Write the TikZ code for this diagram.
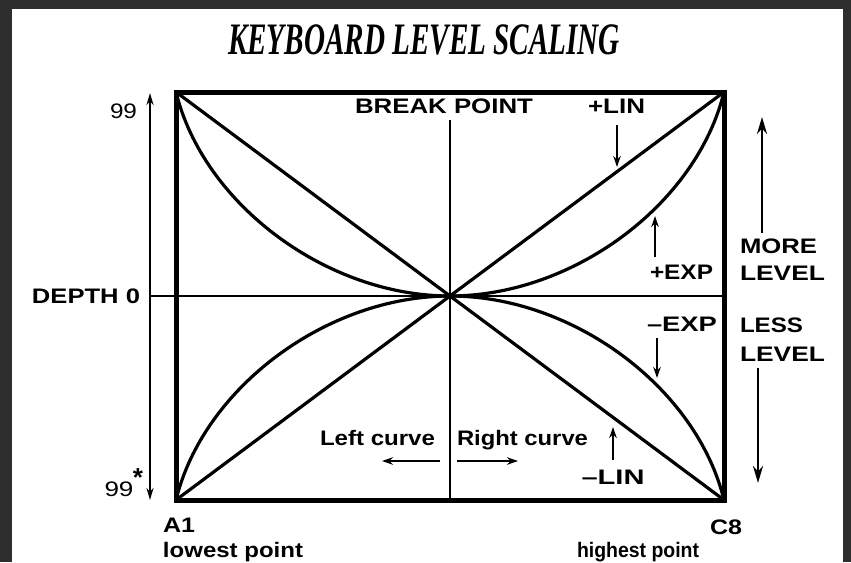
\documentclass[tikz,border=0pt]{standalone}
\usepackage{fontspec}
\usepackage{graphicx}
\setmainfont{Liberation Sans}
\newfontfamily\titlefont{Liberation Serif}
\usetikzlibrary{arrows.meta}
\definecolor{bgdark}{RGB}{46,46,46}
\newcommand\fitw[2]{\resizebox{#1pt}{\height}{#2}}
\begin{document}
\begin{tikzpicture}[x=1pt,y=-1pt,
  lbl/.style={inner sep=0pt, outer sep=0pt, font=\fontsize{21}{21}\selectfont\bfseries},
  num/.style={inner sep=0pt, outer sep=0pt, font=\fontsize{21}{21}\selectfont},
  frame/.style={line width=5pt, line join=miter},
  curve/.style={line width=3.2pt},
  thinline/.style={line width=1.3pt},
  axis/.style={line width=2pt, {Stealth[length=12pt,width=7pt]}-{Stealth[length=12pt,width=7pt]}},
  pointer/.style={line width=1.9pt, -{Stealth[length=11pt,width=7.5pt]}},
  bigarrow/.style={line width=2.6pt, -{Stealth[length=17pt,width=10pt]}}]
\useasboundingbox (0,0) rectangle (851,562);
\fill[bgdark] (0,0) rectangle (851,562);
\fill[white] (12,9) rectangle (843,562);

% title
\node[inner sep=0pt] (title) at (424,40) {\fitw{392}{\titlefont\fontsize{45}{45}\selectfont\bfseries\itshape KEYBOARD LEVEL SCALING}};

% box corners and centre
\coordinate (TL) at (176,92);
\coordinate (TR) at (724,92);
\coordinate (BL) at (176,500);
\coordinate (BR) at (724,500);
\coordinate (C) at (450,296);
\coordinate (hL) at (150,296);
\coordinate (hR) at (724,296);
\coordinate (vT) at (450,120);
\coordinate (vB) at (450,500);

% thin centre lines
\draw[thinline] (hL) -- (hR);
\draw[thinline] (vT) -- (vB);

% linear lines
\draw[curve] (TL) -- (BR);
\draw[curve] (BL) -- (TR);

% exponential curves
\draw[curve] (C) .. controls (573.3,296) and (696.6,204.2) .. (TR);
\draw[curve] (C) .. controls (326.7,296) and (203.4,204.2) .. (TL);
\draw[curve] (C) .. controls (573.3,296) and (696.6,387.8) .. (BR);
\draw[curve] (C) .. controls (326.7,296) and (203.4,387.8) .. (BL);

% frame
\draw[frame] (TL) rectangle (BR);

% left axis
\coordinate (axT) at (150,93);
\coordinate (axB) at (150,500);
\draw[axis] (axB) -- (axT);

% labels left
\node[num] (n99t) at (123.5,111) {\fitw{27}{99}};
\node[lbl] (depth) at (86,296.5) {\fitw{108}{DEPTH 0}};
\node[num] (n99b) at (119,489.5) {\fitw{29}{99}};
\node[inner sep=0pt, font=\fontsize{26}{26}\selectfont\bfseries] (star) at (138,478) {*};

% bottom labels
\node[lbl] (a1) at (179,525.5) {\fitw{32}{A1}};
\node[lbl, anchor=base] (lowest) at (233,557) {\fitw{140}{lowest point}};
\node[lbl] (c8) at (726,527.5) {\fitw{32}{C8}};
\node[lbl, anchor=base] (highest) at (638,557) {\fitw{122}{highest point}};

% top labels
\node[lbl] (bp) at (444,106) {\fitw{178}{BREAK POINT}};
\node[lbl] (plin) at (616.5,106) {\fitw{57}{+LIN}};

% curve labels
\node[lbl] (pexp) at (681.5,272.5) {\fitw{63}{+EXP}};
\node[lbl] (mexp) at (682,324.5) {\fitw{70}{\textendash EXP}};
\node[lbl] (mlin) at (613,477.5) {\fitw{63}{\textendash LIN}};

% right labels
\node[lbl, anchor=west] (more) at (740,246.5) {\fitw{77}{MORE}};
\node[lbl, anchor=west] (level1) at (740,273.5) {\fitw{85}{LEVEL}};
\node[lbl, anchor=west] (less) at (740,325) {\fitw{63}{LESS}};
\node[lbl, anchor=west] (level2) at (740,354.5) {\fitw{85}{LEVEL}};

% left / right curve
\node[lbl, anchor=base] (lc) at (377.5,445) {\fitw{115}{Left curve}};
\node[lbl, anchor=base] (rc) at (522.5,445) {\fitw{131}{Right curve}};

% pointers
\coordinate (plinS) at (617,125); \coordinate (plinE) at (617,167);
\draw[pointer] (plinS) -- (plinE);
\coordinate (pexpS) at (655,257); \coordinate (pexpE) at (655,216);
\draw[pointer] (pexpS) -- (pexpE);
\coordinate (mexpS) at (657,338); \coordinate (mexpE) at (657,378);
\draw[pointer] (mexpS) -- (mexpE);
\coordinate (mlinS) at (613,460); \coordinate (mlinE) at (613,427);
\draw[pointer] (mlinS) -- (mlinE);

\coordinate (lcS) at (440,461); \coordinate (lcE) at (382,461);
\draw[pointer] (lcS) -- (lcE);
\coordinate (rcS) at (457,461); \coordinate (rcE) at (518,461);
\draw[pointer] (rcS) -- (rcE);

% big arrows
\coordinate (upS) at (762,233); \coordinate (upE) at (762,117);
\draw[bigarrow] (upS) -- (upE);
\coordinate (dnS) at (758,368); \coordinate (dnE) at (758,483);
\draw[bigarrow] (dnS) -- (dnE);
\end{tikzpicture}
\end{document}
